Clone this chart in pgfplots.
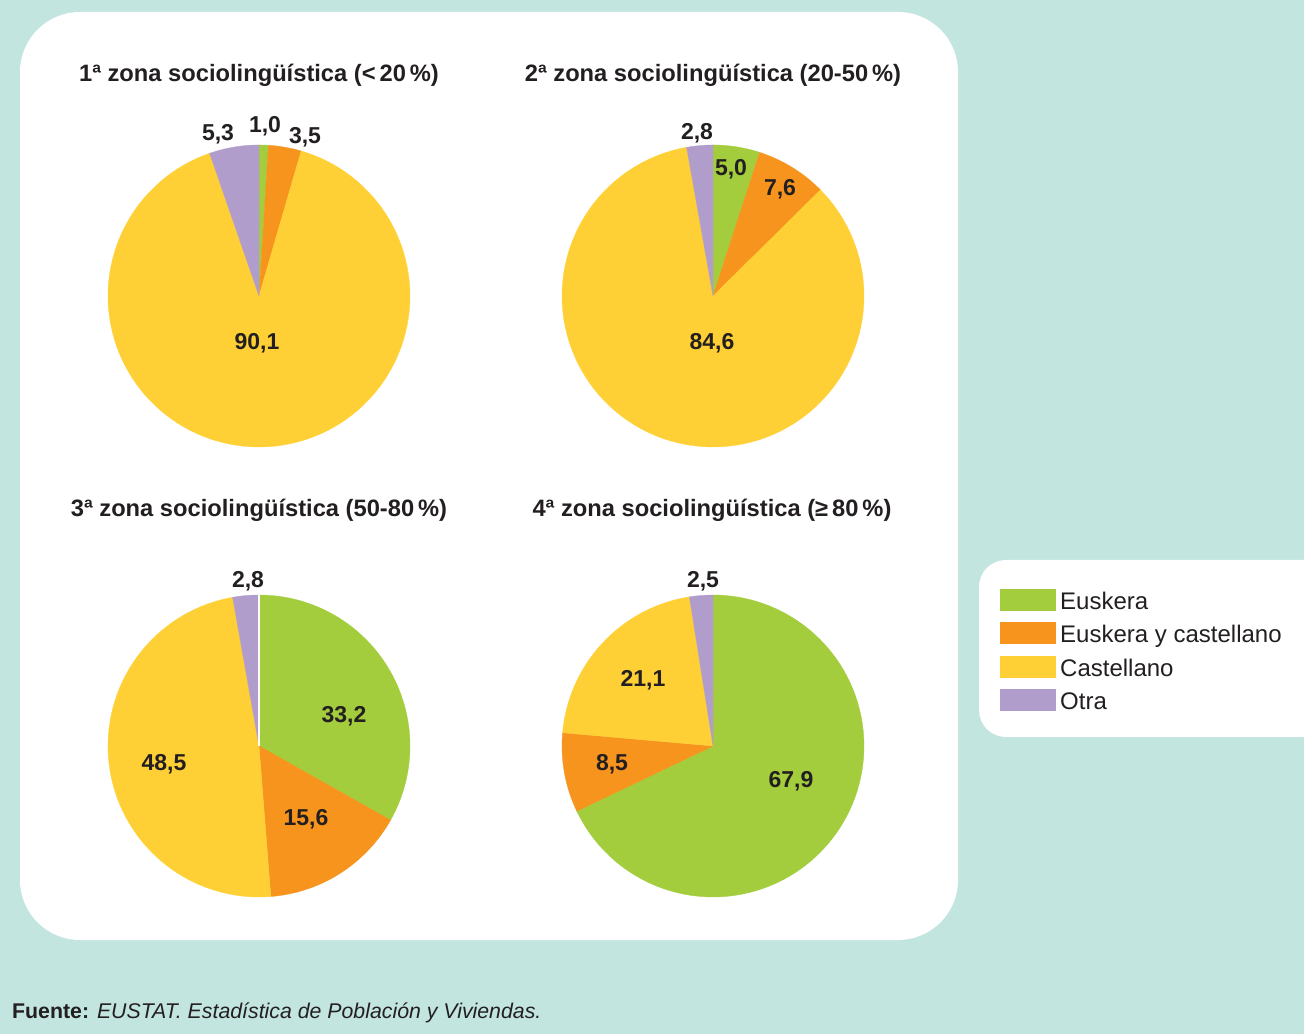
\documentclass[border=0pt]{standalone}
\usepackage{pgfplots}
\pgfplotsset{compat=1.18}
\usepackage{fontspec}
\setmainfont{Liberation Sans}
\definecolor{bgc}{HTML}{C2E5E0}
\definecolor{eus}{HTML}{A3CD3D}
\definecolor{eyc}{HTML}{F7941E}
\definecolor{cas}{HTML}{FFD035}
\definecolor{otr}{HTML}{B09DCB}
\definecolor{txt}{HTML}{231F20}
% #1 cx, #2 cy (pixel, from top), #3 cumulative start, #4 value, #5 total, #6 colour
\newcommand{\pieslice}[6]{%
\addplot[fill=#6, draw=#6, line width=0.3pt, domain={90-360*((#3)+(#4))/(#5)}:{90-360*(#3)/(#5)}, samples=120, variable=\t]
 ({#1+151*cos(\t)},{1034-#2+151*sin(\t)}) -- (axis cs:#1,{1034-#2}) -- cycle;}
\newcommand{\lab}[3]{\node[anchor=base, inner sep=0pt, text=txt, font=\bfseries\fontsize{23}{27}\selectfont] at (axis cs:#1,{1034-#2}) {#3};}
\newcommand{\ttl}[3]{\node[anchor=base, inner sep=0pt, text=txt, font=\bfseries\fontsize{23.7}{28}\selectfont] at (axis cs:#1,{1034-#2}) {#3};}
\begin{document}
\begin{tikzpicture}
\useasboundingbox (0,0) rectangle (1304pt,1034pt);
\fill[bgc] (0,0) rectangle (1304pt,1034pt);
\fill[white, rounded corners=60pt] (20pt,94pt) rectangle (958pt,1022pt);
\fill[white, rounded corners=27pt] (979pt,297pt) rectangle (1345pt,474pt);
% legend
\fill[eus] (1000pt,{(1034-611)*1pt}) rectangle (1056pt,{(1034-589)*1pt});
\fill[eyc] (1000pt,{(1034-644)*1pt}) rectangle (1056pt,{(1034-622)*1pt});
\fill[cas] (1000pt,{(1034-678)*1pt}) rectangle (1056pt,{(1034-656)*1pt});
\fill[otr] (1000pt,{(1034-711)*1pt}) rectangle (1056pt,{(1034-689)*1pt});
\begin{scope}[every node/.style={anchor=base west, inner sep=0pt, text=txt, font=\fontsize{24}{28}\selectfont}]
\node at (1060pt,{(1034-610)*1pt}) {Euskera};
\node at (1060pt,{(1034-643)*1pt}) {Euskera y castellano};
\node at (1060pt,{(1034-677)*1pt}) {Castellano};
\node at (1060pt,{(1034-710)*1pt}) {Otra};
\end{scope}
\node[anchor=base west, inner sep=0pt, text=txt, font=\fontsize{21.3}{25}\selectfont] at (12pt,16pt) {\textbf{Fuente:} \textit{EUSTAT. Estadística de Población y Viviendas.}};
\begin{axis}[at={(0,0)}, anchor=origin, scale only axis, width=1304pt, height=1034pt,
  xmin=0, xmax=1304, ymin=0, ymax=1034, hide axis, clip=false]
% Pie 1: Euskera 1.0, Euskera y castellano 3.5, Castellano 90.1, Otra 5.3
\pieslice{259}{296}{0}{1.0}{99.9}{eus}
\pieslice{259}{296}{1.0}{3.5}{99.9}{eyc}
\pieslice{259}{296}{4.5}{90.1}{99.9}{cas}
\pieslice{259}{296}{94.6}{5.3}{99.9}{otr}
% Pie 2: 5.0, 7.6, 84.6, 2.8
\pieslice{713}{296}{0}{5.0}{100}{eus}
\pieslice{713}{296}{5.0}{7.6}{100}{eyc}
\pieslice{713}{296}{12.6}{84.6}{100}{cas}
\pieslice{713}{296}{97.2}{2.8}{100}{otr}
% Pie 3: 33.2, 15.6, 48.5, 2.8
\pieslice{259}{746}{0}{33.2}{100.1}{eus}
\pieslice{259}{746}{33.2}{15.6}{100.1}{eyc}
\pieslice{259}{746}{48.8}{48.5}{100.1}{cas}
\pieslice{259}{746}{97.3}{2.8}{100.1}{otr}
\draw[white, line width=1.5pt] (axis cs:259,288) -- (axis cs:259,439);
% Pie 4: 67.9, 8.5, 21.1, 2.5
\pieslice{713}{746}{0}{67.9}{100}{eus}
\pieslice{713}{746}{67.9}{8.5}{100}{eyc}
\pieslice{713}{746}{76.4}{21.1}{100}{cas}
\pieslice{713}{746}{97.5}{2.5}{100}{otr}
% titles
\ttl{259}{82}{1ª zona sociolingüística (<\,20\,\%)}
\ttl{713}{82}{2ª zona sociolingüística (20-50\,\%)}
\ttl{259}{517}{3ª zona sociolingüística (50-80\,\%)}
\ttl{712}{517}{4ª zona sociolingüística (≥\,80\,\%)}
% labels
\lab{218}{141}{5,3}
\lab{265}{133}{1,0}
\lab{305}{144}{3,5}
\lab{257}{350}{90,1}
\lab{697}{140}{2,8}
\lab{731}{176}{5,0}
\lab{780}{196}{7,6}
\lab{712}{350}{84,6}
\lab{248}{588}{2,8}
\lab{344}{723}{33,2}
\lab{306}{826}{15,6}
\lab{164}{771}{48,5}
\lab{703}{588}{2,5}
\lab{643}{687}{21,1}
\lab{612}{771}{8,5}
\lab{791}{788}{67,9}
\end{axis}
\end{tikzpicture}
\end{document}
